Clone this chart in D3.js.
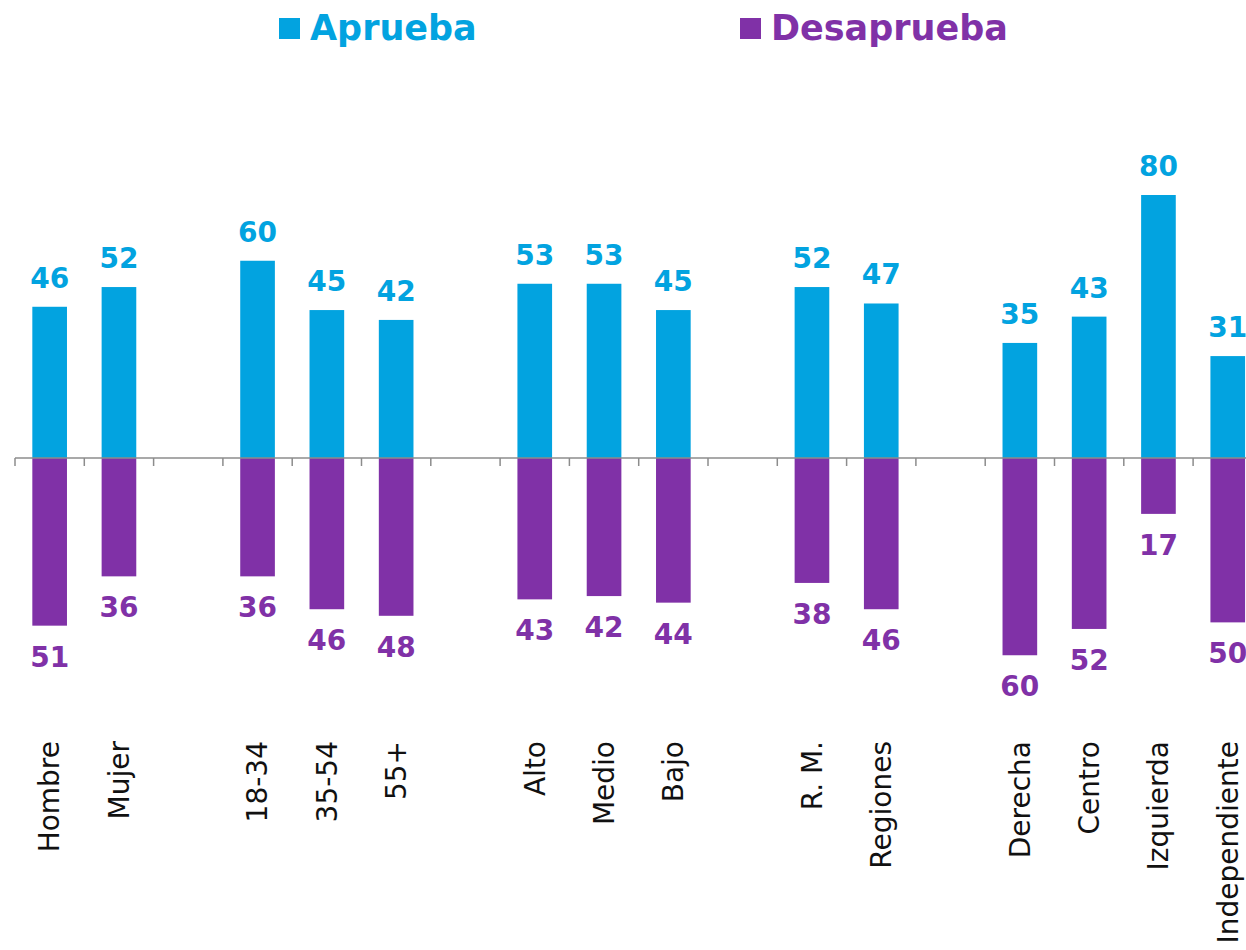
<!DOCTYPE html>
<html>
<head>
<meta charset="utf-8">
<script src="https://cdn.jsdelivr.net/npm/d3@7"></script>
<style>
  body { margin: 0; background: #fff; }
  svg { display: block; }
</style>
</head>
<body>
<svg id="chart" width="1246" height="950"></svg>
<script>
// categories ("" = empty slot between groups)
const categories = ["Hombre", "Mujer", "", "18-34", "35-54", "55+", "", "Alto", "Medio", "Bajo", "",
    "R. M.", "Regiones", "", "Derecha", "Centro", "Izquierda", "Independiente"];
const aprueba = [46, 52, null, 60, 45, 42, null, 53, 53, 45, null, 52, 47, null, 35, 43, 80, 31];
const desaprueba = [51, 36, null, 36, 46, 48, null, 43, 42, 44, null, 38, 46, null, 60, 52, 17, 50];
const seriesNames = ["Aprueba", "Desaprueba"];

const blue = "#02a3e0";
const purple = "#8031a7";

const svg = d3.select("#chart");
const slots = categories.map((c, i) => i);

const step = 69.3;
const x = d3.scaleBand()
    .domain(slots)
    .range([15, 15 + step * slots.length])
    .paddingInner(0.5)
    .paddingOuter(0.25);

const y = d3.scaleLinear()
    .domain([-80, 80])
    .range([721, 195]);

const rows = slots.map(i => ({ i: i, cat: categories[i], a: aprueba[i], d: desaprueba[i] }))
    .filter(d => d.cat !== "");

// bars
svg.append("g").selectAll("rect.a")
    .data(rows)
    .enter().append("rect")
    .attr("class", "a")
    .attr("x", d => x(d.i))
    .attr("width", x.bandwidth())
    .attr("y", d => y(d.a))
    .attr("height", d => y(0) - y(d.a))
    .attr("fill", blue);

svg.append("g").selectAll("rect.d")
    .data(rows)
    .enter().append("rect")
    .attr("class", "d")
    .attr("x", d => x(d.i))
    .attr("width", x.bandwidth())
    .attr("y", y(0))
    .attr("height", d => y(-d.d) - y(0))
    .attr("fill", purple);

// zero axis with ticks at slot boundaries
const axis = svg.append("g").attr("stroke", "#8c8c8c").attr("stroke-width", 1.5);
const x0 = x.range()[0], x1 = x.range()[1];
axis.append("line")
    .attr("x1", x0).attr("x2", x1)
    .attr("y1", y(0)).attr("y2", y(0));
axis.selectAll("line.tick")
    .data(d3.range(slots.length + 1))
    .enter().append("line")
    .attr("class", "tick")
    .attr("x1", i => x0 + i * x.step()).attr("x2", i => x0 + i * x.step())
    .attr("y1", y(0)).attr("y2", y(0) + 8);

// value labels
const valFont = "'DejaVu Sans', sans-serif";
svg.append("g").selectAll("text")
    .data(rows)
    .enter().append("text")
    .attr("x", d => x(d.i) + x.bandwidth() / 2)
    .attr("y", d => y(d.a) - 19)
    .attr("text-anchor", "middle")
    .attr("font-family", valFont)
    .attr("font-weight", "bold")
    .attr("font-size", 28)
    .attr("fill", blue)
    .text(d => d.a);

svg.append("g").selectAll("text")
    .data(rows)
    .enter().append("text")
    .attr("x", d => x(d.i) + x.bandwidth() / 2)
    .attr("y", d => y(-d.d) + 41)
    .attr("text-anchor", "middle")
    .attr("font-family", valFont)
    .attr("font-weight", "bold")
    .attr("font-size", 28)
    .attr("fill", purple)
    .text(d => d.d);

// category labels
svg.append("g").selectAll("text")
    .data(rows)
    .enter().append("text")
    .attr("transform", d => `translate(${x(d.i) + x.bandwidth() / 2},741) rotate(-90)`)
    .attr("dy", "0.35em")
    .attr("text-anchor", "end")
    .attr("font-family", valFont)
    .attr("font-size", 28)
    .attr("fill", "#111")
    .text(d => d.cat);

// legend
const legend = svg.append("g").selectAll("g")
    .data(seriesNames)
    .enter().append("g")
    .attr("transform", (d, i) => `translate(${i === 0 ? 279 : 740},0)`);
legend.append("rect")
    .attr("y", 18)
    .attr("width", 21)
    .attr("height", 21)
    .attr("fill", (d, i) => i === 0 ? blue : purple);
legend.append("text")
    .attr("x", 31)
    .attr("y", 40)
    .attr("font-family", valFont)
    .attr("font-weight", "bold")
    .attr("font-size", 35)
    .attr("fill", (d, i) => i === 0 ? blue : purple)
    .text(d => d);
</script>
</body>
</html>
